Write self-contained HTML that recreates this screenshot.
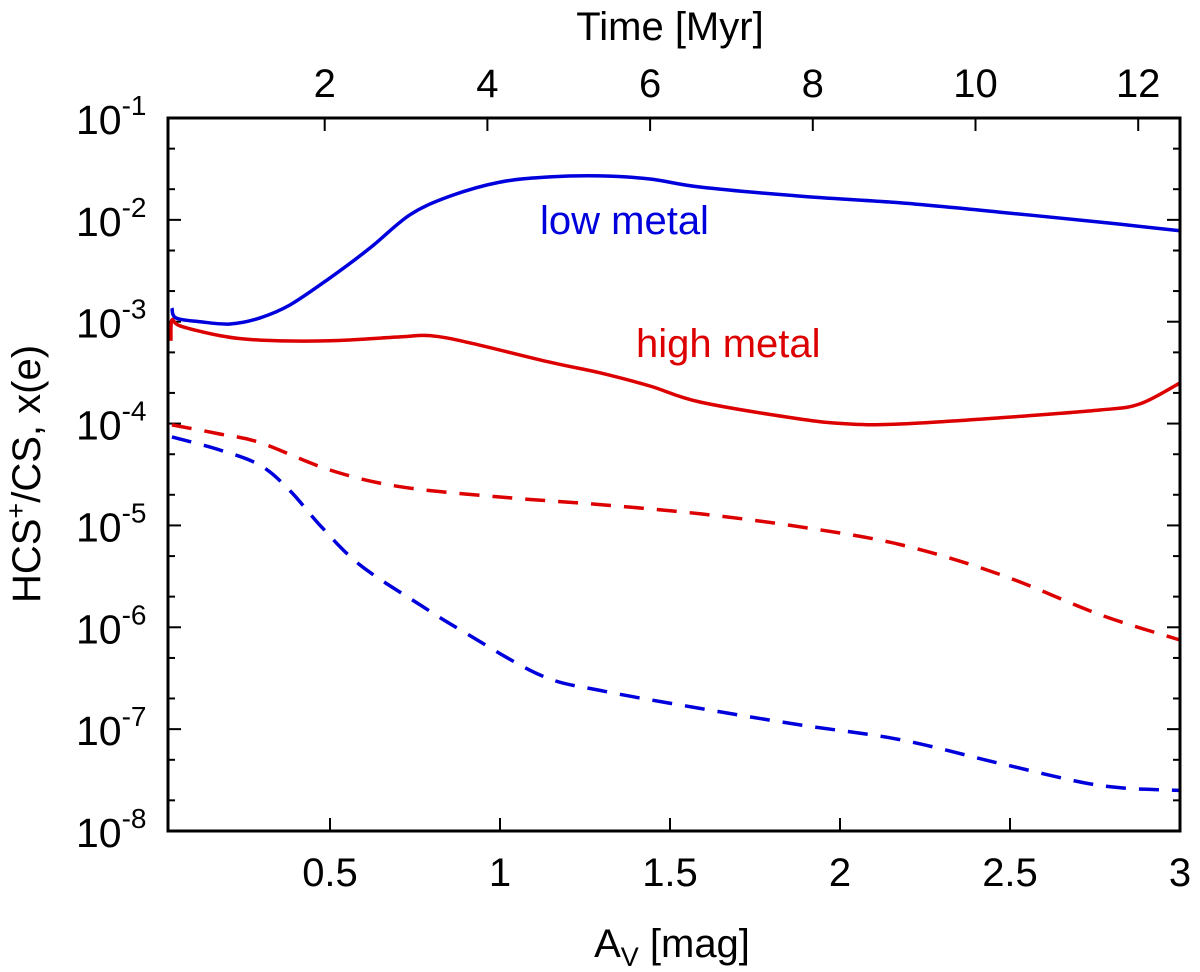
<!DOCTYPE html>
<html><head><meta charset="utf-8"><style>
body{margin:0;background:#fff;}
svg text{font-family:"Liberation Sans",sans-serif;fill:#000;}
</style></head><body>
<svg id="chart" width="1200" height="967" xmlns="http://www.w3.org/2000/svg">
<g id="ticks"></g>
<g id="series"></g>
<rect x="168" y="118" width="1012" height="713" fill="none" stroke="#000" stroke-width="3"/>
<text x="670" y="40" font-size="40" text-anchor="middle">Time [Myr]</text>
<text x="672" y="957" font-size="40" text-anchor="middle">A<tspan font-size="27" dy="9">V</tspan><tspan dy="-9"> [mag]</tspan></text>
<text transform="translate(40,474) rotate(-90)" font-size="40" text-anchor="middle">HCS<tspan font-size="27" dy="-15">+</tspan><tspan dy="15">/CS, x(e)</tspan></text>
<text x="540" y="234" font-size="40" style="fill:#0000dd">low metal</text>
<text x="636" y="357" font-size="40" style="fill:#dd0000">high metal</text>
</svg>
<script>
const xTicks=[0.5,1,1.5,2,2.5,3];
const xTickLabels=["0.5","1","1.5","2","2.5","3"];
const timeTicks=[2,4,6,8,10,12];
const yDecades=[-1,-2,-3,-4,-5,-6,-7,-8];
const blueSolidX=[0.035,0.047,0.118,0.206,0.294,0.382,0.5,0.618,0.735,0.853,1.0,1.147,1.294,1.441,1.588,1.882,2.176,2.471,2.765,3.0];
const blueSolidY=[1.36e-3,1.09e-3,1.0e-3,0.95e-3,1.09e-3,1.46e-3,2.69e-3,5.3e-3,1.12e-2,1.71e-2,2.35e-2,2.64e-2,2.7e-2,2.52e-2,2.1e-2,1.71e-2,1.47e-2,1.19e-2,9.5e-3,7.8e-3];
const redSolidX=[0.032,0.035,0.059,0.176,0.294,0.5,0.706,0.794,0.912,1.147,1.294,1.441,1.588,1.882,2.029,2.176,2.471,2.765,2.882,3.0];
const redSolidY=[0.65e-3,1.04e-3,0.91e-3,0.73e-3,0.66e-3,0.65e-3,0.71e-3,0.73e-3,0.62e-3,0.40e-3,0.315e-3,0.234e-3,0.163e-3,0.111e-3,0.099e-3,0.099e-3,0.114e-3,0.136e-3,0.156e-3,0.251e-3];
const redDashX=[0.035,0.176,0.294,0.5,0.706,1.0,1.294,1.588,1.882,2.176,2.471,2.765,3.0];
const redDashY=[9.7e-5,7.9e-5,6.5e-5,3.5e-5,2.4e-5,1.9e-5,1.6e-5,1.3e-5,9.7e-6,6.5e-6,3.3e-6,1.33e-6,7.5e-7];
const blueDashX=[0.035,0.176,0.294,0.382,0.471,0.588,0.765,0.882,1.118,1.294,1.588,1.882,2.176,2.471,2.765,3.0];
const blueDashY=[7.4e-5,5.5e-5,3.9e-5,2.2e-5,1.0e-5,4.1e-6,1.66e-6,9.5e-7,3.4e-7,2.4e-7,1.6e-7,1.1e-7,7.9e-8,4.6e-8,2.8e-8,2.5e-8];

const NS="http://www.w3.org/2000/svg";
const L=168,R=1180,T=118,B=831;
const sx=v=>160+340*v;
const st=v=>162+81.35*v;
const sy=v=>T+(-1-Math.log10(v))*(B-T)/7;
function mk(tag,attrs,parent){const e=document.createElementNS(NS,tag);for(const k in attrs)e.setAttribute(k,attrs[k]);parent.appendChild(e);return e;}
const tg=document.getElementById('ticks'),sg=document.getElementById('series'),svg=document.getElementById('chart');
function line(x1,y1,x2,y2,name){const e=mk('line',{x1,y1,x2,y2,stroke:'#000','stroke-width':2},tg);

}
xTicks.forEach((v,i)=>{const x=sx(v);line(x,B,x,B-13,'x-tick');
const t=mk('text',{x:x,y:B+55,'font-size':40,'text-anchor':'middle'},svg);t.textContent=xTickLabels[i];

});
timeTicks.forEach(v=>{const x=st(v);line(x,T,x,T+13,'time-tick');
const t=mk('text',{x:x,y:T-21,'font-size':40,'text-anchor':'middle'},svg);t.textContent=String(v);

});
yDecades.forEach(d=>{const y=sy(Math.pow(10,d));line(L,y,L+13,y,'y-tick');line(R,y,R-13,y,'y-tick-right');
if(d>-8){[2,5].forEach(m=>{const ym=sy(m*Math.pow(10,d-1));line(L,ym,L+7,ym,'y-minor-tick');line(R,ym,R-7,ym,'y-minor-tick-right');});}
const t=mk('text',{x:76,y:y+16,'font-size':41,'text-anchor':'start'},svg);
t.innerHTML='10<tspan font-size="28" dy="-19">'+d+'</tspan>';

});
function smoothPath(pts){let d='M'+pts[0][0].toFixed(1)+','+pts[0][1].toFixed(1);
for(let i=0;i<pts.length-1;i++){const p0=pts[Math.max(0,i-1)],p1=pts[i],p2=pts[i+1],p3=pts[Math.min(pts.length-1,i+2)];
const c1=[p1[0]+(p2[0]-p0[0])/6,p1[1]+(p2[1]-p0[1])/6],c2=[p2[0]-(p3[0]-p1[0])/6,p2[1]-(p3[1]-p1[1])/6];
d+=' C'+c1.map(v=>v.toFixed(1)).join(',')+' '+c2.map(v=>v.toFixed(1)).join(',')+' '+p2[0].toFixed(1)+','+p2[1].toFixed(1);}
return d;}
function series(xs,ys,color,dash,name){const pts=xs.map((x,i)=>[sx(x),sy(ys[i])]);
const p=mk('path',{d:smoothPath(pts),fill:'none',stroke:color,'stroke-width':3.5,'stroke-linejoin':'round'},sg);
if(dash)p.setAttribute('stroke-dasharray','20,13');

}
series(redDashX,redDashY,'#dd0000',true,'high-metal-xe-dashed');
series(blueDashX,blueDashY,'#0000dd',true,'low-metal-xe-dashed');
series(redSolidX,redSolidY,'#dd0000',false,'high-metal-ratio-line');
series(blueSolidX,blueSolidY,'#0000dd',false,'low-metal-ratio-line');
</script>
</body></html>
